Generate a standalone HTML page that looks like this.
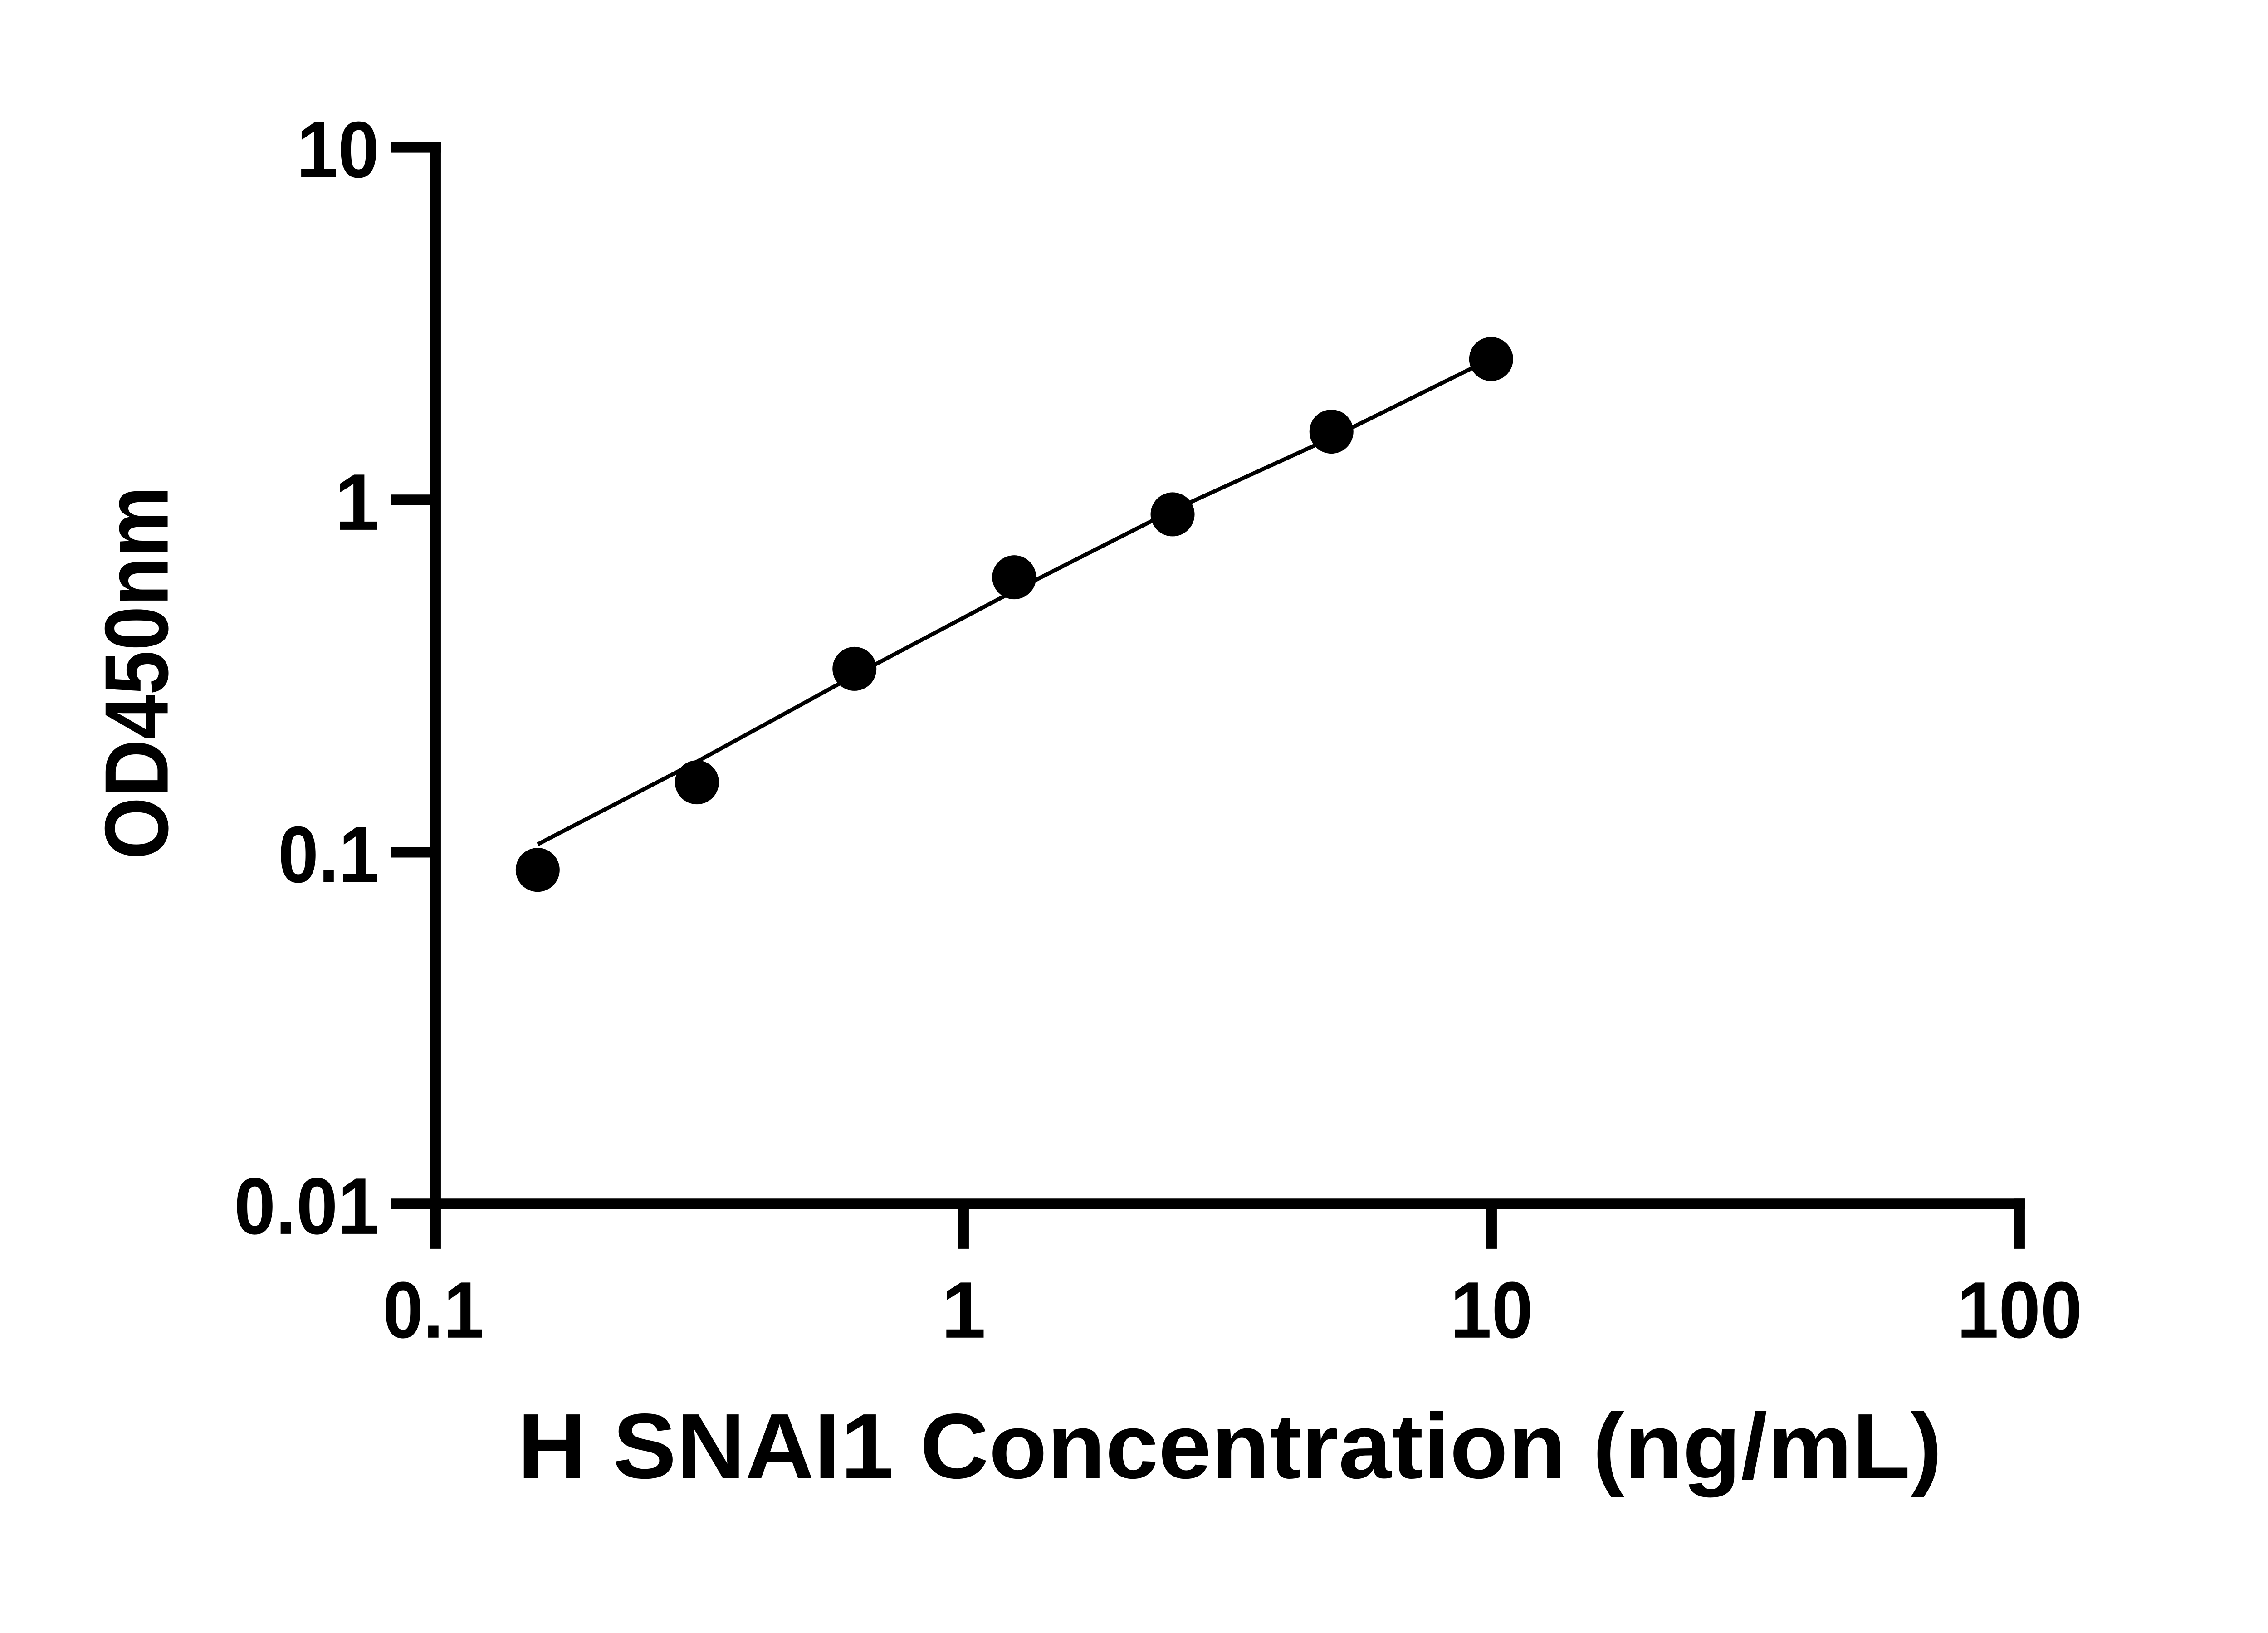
<!DOCTYPE html>
<html><head><meta charset="utf-8"><style>html,body{margin:0;padding:0;background:#fff}svg{display:block}</style></head>
<body>
<svg width="5142" height="3600" viewBox="0 0 5142 3600" xmlns="http://www.w3.org/2000/svg">
<rect width="5142" height="3600" fill="#fff"/>
<g transform="scale(0.970)">
<g stroke="#000" stroke-width="24" fill="none" stroke-linecap="butt">
  <line x1="990" y1="323" x2="990" y2="2838"/>
  <line x1="978" y1="2736" x2="4602" y2="2736"/>
  <line x1="888" y1="335" x2="1002" y2="335"/>
  <line x1="888" y1="1136" x2="990" y2="1136"/>
  <line x1="888" y1="1937" x2="990" y2="1937"/>
  <line x1="888" y1="2736" x2="990" y2="2736"/>
  <line x1="2190" y1="2736" x2="2190" y2="2838"/>
  <line x1="3390" y1="2736" x2="3390" y2="2838"/>
  <line x1="4590" y1="2724" x2="4590" y2="2838"/>
</g>
<g font-family="Liberation Sans, Arial, sans-serif" font-weight="bold" font-size="182" fill="#000">
  <text x="862" y="403" text-anchor="end" textLength="188" lengthAdjust="spacingAndGlyphs">10</text>
  <text x="862" y="1204" text-anchor="end">1</text>
  <text x="862" y="2005" text-anchor="end" textLength="230" lengthAdjust="spacingAndGlyphs">0.1</text>
  <text x="862" y="2804" text-anchor="end" textLength="330" lengthAdjust="spacingAndGlyphs">0.01</text>
  <text x="985" y="3040" text-anchor="middle" textLength="230" lengthAdjust="spacingAndGlyphs">0.1</text>
  <text x="2190" y="3040" text-anchor="middle">1</text>
  <text x="3390" y="3040" text-anchor="middle" textLength="188" lengthAdjust="spacingAndGlyphs">10</text>
  <text x="4590" y="3040" text-anchor="middle" textLength="285" lengthAdjust="spacingAndGlyphs">100</text>
</g>
<polyline fill="none" stroke="#000" stroke-width="9" points="1222,1919 1584,1731 1942,1535 2305,1343 2665,1160 3026,995 3351,834"/>
<g fill="#000">
  <circle cx="1222" cy="1977" r="50"/>
  <circle cx="1584" cy="1778" r="50"/>
  <circle cx="1942" cy="1520" r="50"/>
  <circle cx="2305" cy="1312" r="50"/>
  <circle cx="2665" cy="1169" r="50"/>
  <circle cx="3026" cy="981" r="50"/>
  <circle cx="3389" cy="816" r="50"/>
</g>
<text x="2795" y="3359" text-anchor="middle" font-family="Liberation Sans, Arial, sans-serif" font-weight="bold" font-size="210" textLength="3238" lengthAdjust="spacingAndGlyphs">H SNAI1 Concentration (ng/mL)</text>
<text transform="translate(381,1529) rotate(-90)" x="0" y="0" text-anchor="middle" font-family="Liberation Sans, Arial, sans-serif" font-weight="bold" font-size="205" textLength="848" lengthAdjust="spacingAndGlyphs">OD450nm</text>
</g>
</svg>
</body></html>
